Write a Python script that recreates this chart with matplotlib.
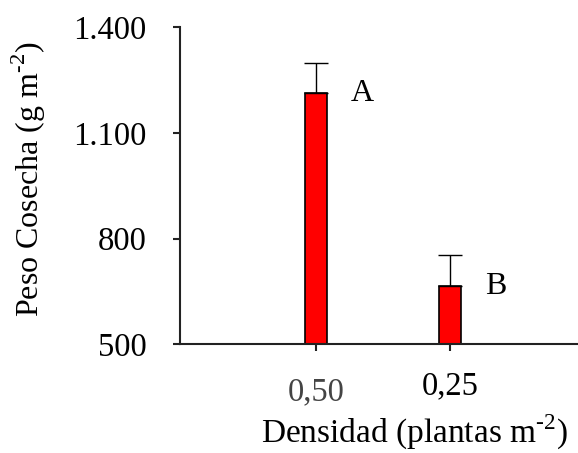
import matplotlib.pyplot as plt
import matplotlib.transforms as mtransforms

plt.rcParams['font.family'] = ['Liberation Serif', 'DejaVu Serif']
plt.rcParams['mathtext.fontset'] = 'custom'
plt.rcParams['mathtext.rm'] = 'Liberation Serif'

# data
densidad = ['0,50', '0,25']
peso = [1212, 665]
error = [85, 88]
letras = ['A', 'B']
y_ticks = [500, 800, 1100, 1400]
y_tick_labels = ['500', '800', '1.100', '1.400']

fig = plt.figure(figsize=(5.78, 4.53), dpi=100)
ax = fig.add_axes([0.311, 0.240, 0.689, 0.700])

x = list(range(len(densidad)))
ax.bar(x, peso, width=0.165, color='#ff0000', edgecolor='black', linewidth=1.2,
       yerr=[[0, 0], error], error_kw=dict(ecolor='black', elinewidth=1.0, capsize=8.5, capthick=1.0),
       zorder=2)

for xi, yi, lab in zip(x, peso, letras):
    ax.text(xi + 0.345, yi, lab, fontsize=23, ha='center', va='center')

ax.set_xlim(-1.015, 1.955)
ax.set_ylim(500, 1400)
ax.set_yticks(y_ticks)
ax.set_yticklabels(y_tick_labels)
ax.set_xticks(x)
ax.set_xticklabels(densidad)

for s in ['top', 'right']:
    ax.spines[s].set_visible(False)
for s in ['left', 'bottom']:
    ax.spines[s].set_linewidth(1.5)
    ax.spines[s].set_color('#222222')

ax.tick_params(axis='y', direction='out', length=5, width=1.5, pad=19, labelsize=23.5, color='#222222')
ax.tick_params(axis='x', direction='out', length=5, width=1.5, pad=14, labelsize=23.5, color='#222222')

# the first category label sits a little lower and lighter in the original
lbl0 = ax.get_xticklabels()[0]
lbl0.set_color('#444444')
lbl0.set_transform(lbl0.get_transform() + mtransforms.ScaledTranslation(0, -6 / 100, fig.dpi_scale_trans))

ax.set_ylabel(r'Peso Cosecha (g m$^{\mathrm{\text{-}2}}$)', fontsize=23)
ax.yaxis.set_label_coords(-0.331, 0.519)
ax.set_xlabel(r'Densidad (plantas m$^{\mathrm{\text{-}2}}$)', fontsize=24)
ax.xaxis.set_label_coords(0.59, -0.215)

fig.savefig('out.png', dpi=100)
